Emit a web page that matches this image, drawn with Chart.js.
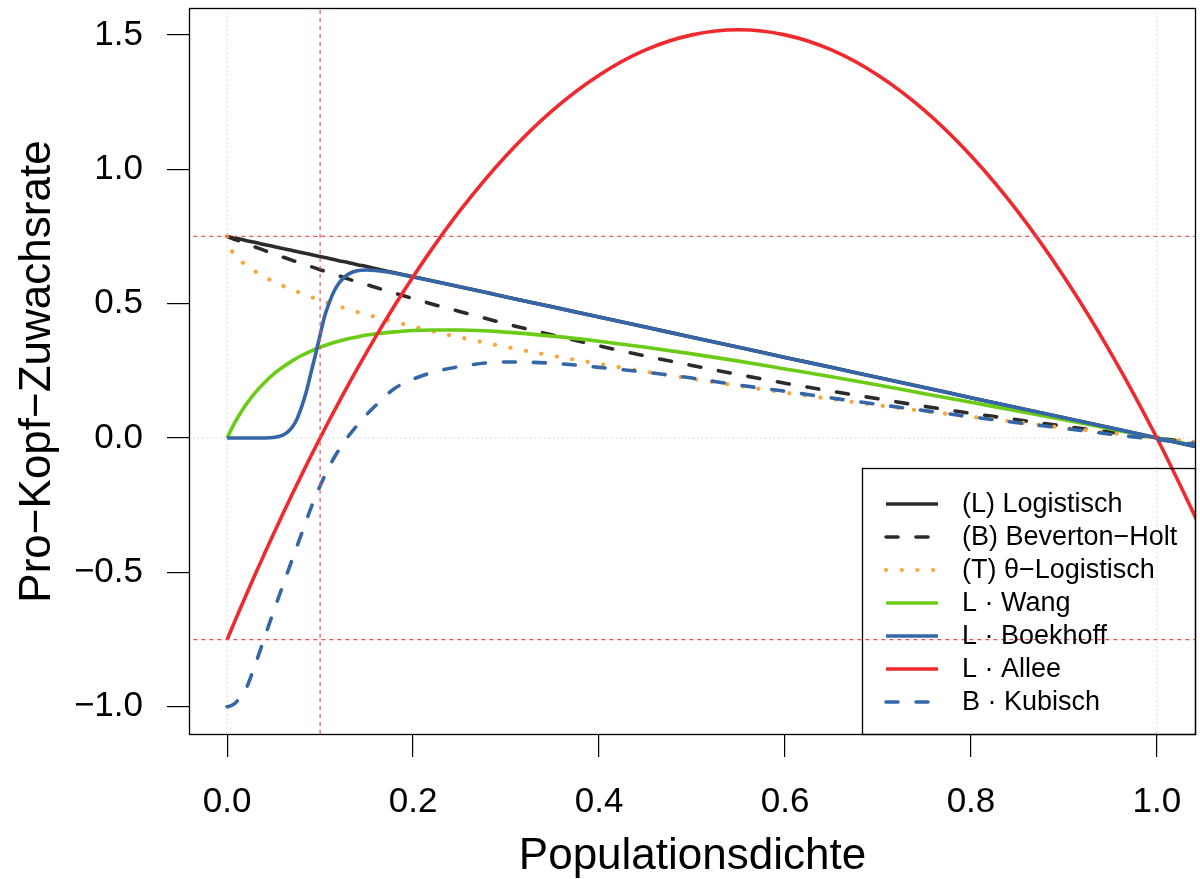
<!DOCTYPE html>
<html>
<head>
<meta charset="utf-8">
<script src="https://cdn.jsdelivr.net/npm/chart.js@4/dist/chart.umd.min.js"></script>
<style>
  html, body { margin: 0; padding: 0; background: #ffffff; }
  #wrap { width: 1200px; height: 879px; position: relative; }
</style>
</head>
<body>
<div id="wrap"><canvas id="c"></canvas></div>
<script>
// ---------- data ----------
const densityGrid = [0, 0.005, 0.01, 0.02, 0.03, 0.04, 0.05, 0.06, 0.07, 0.08, 0.09, 0.1, 0.11, 0.12, 0.13, 0.14, 0.15, 0.16, 0.18, 0.2, 0.22, 0.25, 0.3, 0.35, 0.4, 0.45, 0.5, 0.55, 0.6, 0.65, 0.7, 0.75, 0.8, 0.85, 0.9, 0.95, 1.0, 1.05];

const logisticValues = [0.75, 0.746, 0.743, 0.735, 0.728, 0.72, 0.713, 0.705, 0.698, 0.69, 0.683, 0.675, 0.668, 0.66, 0.653, 0.645, 0.638, 0.63, 0.615, 0.6, 0.585, 0.563, 0.525, 0.488, 0.45, 0.413, 0.375, 0.338, 0.3, 0.263, 0.225, 0.188, 0.15, 0.113, 0.075, 0.038, 0, -0.038];

const bevertonHoltValues = [0.75, 0.743, 0.737, 0.724, 0.711, 0.698, 0.686, 0.673, 0.661, 0.649, 0.638, 0.626, 0.615, 0.604, 0.592, 0.581, 0.571, 0.56, 0.539, 0.519, 0.499, 0.471, 0.425, 0.383, 0.343, 0.305, 0.27, 0.236, 0.204, 0.174, 0.146, 0.118, 0.092, 0.068, 0.044, 0.022, 0, -0.021];

const thetaLogisticValues = [0.75, 0.697, 0.675, 0.644, 0.62, 0.6, 0.582, 0.566, 0.552, 0.538, 0.525, 0.513, 0.501, 0.49, 0.48, 0.469, 0.46, 0.45, 0.432, 0.415, 0.398, 0.375, 0.339, 0.306, 0.276, 0.247, 0.22, 0.194, 0.169, 0.145, 0.122, 0.1, 0.079, 0.059, 0.038, 0.019, 0, -0.019];

const wangValues = [0, 0.036, 0.068, 0.123, 0.168, 0.206, 0.238, 0.264, 0.287, 0.307, 0.323, 0.338, 0.35, 0.36, 0.369, 0.376, 0.383, 0.388, 0.395, 0.4, 0.402, 0.402, 0.394, 0.379, 0.36, 0.338, 0.313, 0.286, 0.257, 0.228, 0.197, 0.165, 0.133, 0.101, 0.068, 0.034, 0, -0.034];

const alleeValues = [-0.75, -0.709, -0.668, -0.588, -0.509, -0.432, -0.356, -0.282, -0.209, -0.138, -0.068, 0, 0.067, 0.132, 0.196, 0.258, 0.319, 0.378, 0.492, 0.6, 0.702, 0.844, 1.05, 1.219, 1.35, 1.444, 1.5, 1.519, 1.5, 1.444, 1.35, 1.219, 1.05, 0.844, 0.6, 0.319, 0, -0.356];

const kubischValues = [-1.0, -0.995, -0.982, -0.935, -0.845, -0.745, -0.645, -0.548, -0.452, -0.357, -0.262, -0.178, -0.105, -0.045, 0.005, 0.048, 0.087, 0.122, 0.184, 0.219, 0.243, 0.266, 0.283, 0.278, 0.263, 0.245, 0.223, 0.197, 0.174, 0.149, 0.125, 0.102, 0.079, 0.057, 0.036, 0.014, -0.006, -0.027];

const boekhoffGrid = [0, 0.02, 0.04, 0.05, 0.06, 0.065, 0.07, 0.075, 0.08, 0.085, 0.09, 0.095, 0.1, 0.105, 0.11, 0.115, 0.12, 0.125, 0.13, 0.14, 0.15, 0.16, 0.18, 0.2, 0.22, 0.25, 0.3, 0.4, 0.5, 0.6, 0.7, 0.8, 0.9, 1.0, 1.05];
const boekhoffValues = [0, 0, 0.0002, 0.002, 0.011, 0.022, 0.04, 0.07, 0.115, 0.17, 0.24, 0.31, 0.383, 0.455, 0.505, 0.546, 0.575, 0.595, 0.609, 0.622, 0.625, 0.623, 0.613, 0.599, 0.585, 0.563, 0.525, 0.45, 0.375, 0.3, 0.225, 0.15, 0.075, 0, -0.038];

const seriesLabels = ["(L) Logistisch", "(B) Beverton\u2212Holt", "(T) \u03b8\u2212Logistisch", "L \u00b7 Wang", "L \u00b7 Boekhoff", "L \u00b7 Allee", "B \u00b7 Kubisch"];

const referenceRates = [0.75, -0.75];
const referenceDensities = [0.1];
const gridDensities = [0, 1];
const gridRates = [0];

const xTickValues = [0, 0.2, 0.4, 0.6, 0.8, 1.0];
const xTickLabels = ["0.0", "0.2", "0.4", "0.6", "0.8", "1.0"];
const yTickValues = [-1.0, -0.5, 0, 0.5, 1.0, 1.5];
const yTickLabels = ["\u22121.0", "\u22120.5", "0.0", "0.5", "1.0", "1.5"];

const xTitle = "Populationsdichte";
const yTitle = "Pro\u2212Kopf\u2212Zuwachsrate";

// ---------- build ----------
const FONT = "'Liberation Sans', Arial, Helvetica, sans-serif";
const X_MIN = -0.041, X_MAX = 1.042, Y_MIN = -1.105, Y_MAX = 1.6;

function pts(xs, ys) { return xs.map((x, i) => ({ x: x, y: ys[i] })); }

const styles = [
  { color: '#2b2b2b', dash: [], cap: 'butt' },
  { color: '#2b2b2b', dash: [12, 18], cap: 'round' },
  { color: '#F9A63C', dash: [0.1, 15.6], cap: 'round', width: 4.2 },
  { color: '#6BCB17', dash: [], cap: 'butt' },
  { color: '#3566A8', dash: [], cap: 'butt' },
  { color: '#EE2A2E', dash: [], cap: 'butt' },
  { color: '#3566A8', dash: [12, 18], cap: 'round' }
];
const seriesData = [
  pts(densityGrid, logisticValues),
  pts(densityGrid, bevertonHoltValues),
  pts(densityGrid, thetaLogisticValues),
  pts(densityGrid, wangValues),
  pts(boekhoffGrid, boekhoffValues),
  pts(densityGrid, alleeValues),
  pts(densityGrid, kubischValues)
];

const datasets = [];
let orderCounter = 1000;
gridDensities.forEach(d => datasets.push({
  data: [{ x: d, y: -5 }, { x: d, y: 5 }], borderColor: '#cfcfcf', borderWidth: 1,
  borderDash: [1.5, 3], isRef: true, order: orderCounter--
}));
gridRates.forEach(r => datasets.push({
  data: [{ x: -1, y: r }, { x: 2, y: r }], borderColor: '#cfcfcf', borderWidth: 1,
  borderDash: [1.5, 3], isRef: true, order: orderCounter--
}));
seriesData.forEach((d, i) => datasets.push({
  label: seriesLabels[i], data: d, borderColor: styles[i].color,
  borderWidth: styles[i].width || 3.6, borderDash: styles[i].dash, borderCapStyle: styles[i].cap,
  cubicInterpolationMode: 'monotone', isCurve: true, order: orderCounter--
}));
referenceRates.forEach(r => datasets.push({
  data: [{ x: -1, y: r }, { x: 2, y: r }], borderColor: '#F04E52', borderWidth: 1.2,
  borderDash: [4, 4], isRef: true, order: orderCounter--
}));
referenceDensities.forEach(d => datasets.push({
  data: [{ x: d, y: -5 }, { x: d, y: 5 }], borderColor: '#F04E52', borderWidth: 1.2,
  borderDash: [4, 4], isRef: true, order: orderCounter--
}));
datasets.forEach(ds => { ds.showLine = true; ds.pointRadius = 0; ds.pointHoverRadius = 0; ds.fill = false; ds.clip = 0; });

const framePlugin = {
  id: 'frame',
  afterDatasetsDraw(chart) {
    const a = chart.chartArea, ctx = chart.ctx;
    ctx.save();
    ctx.strokeStyle = '#000'; ctx.lineWidth = 1.3;
    ctx.strokeRect(a.left + 0.5, a.top + 0.5, a.right - a.left - 1, a.bottom - a.top - 1);
    ctx.restore();
  },
  afterDraw(chart) {
    const a = chart.chartArea, ctx = chart.ctx;
    ctx.save();
    ctx.fillStyle = '#000';
    ctx.font = '44px ' + FONT;
    ctx.textAlign = 'center'; ctx.textBaseline = 'alphabetic';
    ctx.fillText(xTitle, (a.left + a.right) / 2, 869);
    ctx.translate(50, (a.top + a.bottom) / 2);
    ctx.rotate(-Math.PI / 2);
    ctx.fillText(yTitle, 0, 0);
    ctx.restore();

    ctx.save();
    const bx = 862, by = 468, bw = a.right - bx, bh = a.bottom - by;
    ctx.strokeStyle = '#000'; ctx.lineWidth = 1.3;
    ctx.strokeRect(bx + 0.5, by + 0.5, bw - 1, bh - 1);
    ctx.font = '27px ' + FONT;
    ctx.textAlign = 'left'; ctx.textBaseline = 'middle';
    const curves = chart.data.datasets.filter(d => d.isCurve);
    curves.forEach((ds, i) => {
      const y = 504 + i * 33;
      ctx.beginPath();
      ctx.strokeStyle = ds.borderColor;
      ctx.lineWidth = ds.borderWidth;
      ctx.setLineDash(ds.borderDash || []);
      ctx.lineCap = ds.borderCapStyle || 'butt';
      ctx.moveTo(886, y); ctx.lineTo(938, y);
      ctx.stroke();
      ctx.setLineDash([]);
      ctx.fillStyle = '#000';
      ctx.fillText(ds.label, 962, y + 1);
    });
    ctx.restore();
  }
};

function zeroPad(s) { s.paddingTop = 0; s.paddingBottom = 0; s.paddingLeft = 0; s.paddingRight = 0; }

new Chart(document.getElementById('c'), {
  type: 'scatter',
  data: { datasets: datasets },
  plugins: [framePlugin],
  options: {
    responsive: true, maintainAspectRatio: false, animation: false,
    events: [],
    layout: { padding: { top: 8, right: 4, left: 0, bottom: 0 } },
    plugins: { legend: { display: false }, tooltip: { enabled: false }, title: { display: false } },
    scales: {
      x: {
        type: 'linear', min: X_MIN, max: X_MAX,
        afterBuildTicks: s => { s.ticks = xTickValues.map(v => ({ value: v })); },
        afterFit: s => { s.height = 144; zeroPad(s); },
        ticks: { callback: (v, i) => xTickLabels[i], color: '#000', font: { family: FONT, size: 35 }, padding: 24, maxRotation: 0, autoSkip: false },
        grid: { drawOnChartArea: false, drawTicks: true, tickLength: 22, color: '#000', lineWidth: 1.2 },
        border: { display: false }
      },
      y: {
        type: 'linear', min: Y_MIN, max: Y_MAX,
        afterBuildTicks: s => { s.ticks = yTickValues.map(v => ({ value: v })); },
        afterFit: s => { s.width = 189; zeroPad(s); },
        ticks: { callback: (v, i) => yTickLabels[i], color: '#000', font: { family: FONT, size: 35 }, padding: 24, autoSkip: false },
        grid: { drawOnChartArea: false, drawTicks: true, tickLength: 22, color: '#000', lineWidth: 1.2 },
        border: { display: false }
      }
    }
  }
});
</script>
</body>
</html>
